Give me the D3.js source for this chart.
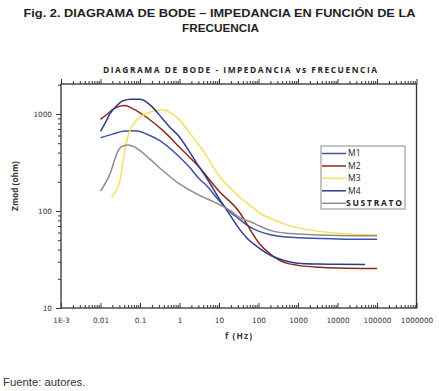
<!DOCTYPE html>
<html>
<head>
<meta charset="utf-8">
<script src="https://cdn.jsdelivr.net/npm/d3@7"></script>
<style>
  body { margin: 0; background: #fff; }
  svg { display: block; }
  .tick text { font-family: "DejaVu Sans", sans-serif; font-size: 7.3px; fill: #333; }
  .tick line { stroke: #333; }
</style>
</head>
<body>
<div id="chart"></div>
<script>
// bode plot - impedance modulus vs frequency

const width = 439;
const height = 391;
const plot = { left: 61, right: 416.5, top: 84, bottom: 308 };

// data (f in Hz, Zmod in ohm)
const seriesNames = ["M1", "M2", "M3", "M4", "SUSTRATO"];
const seriesColors = ["#3e51a6", "#8c2a16", "#f7e15a", "#2d3b90", "#8d8d8d"];

const m1Freq = [0.01, 0.02, 0.037, 0.067, 0.1, 0.146, 0.316, 0.83, 1.8, 3.2, 5, 10, 20, 33, 50, 100, 200, 500, 1000, 10000, 100000];
const m1Z = [570, 620, 662, 672, 660, 622, 531, 387, 282, 214, 180, 128, 96, 82, 72, 62, 57, 54, 53, 51.5, 51];

const m2Freq = [0.01, 0.015, 0.023, 0.041, 0.067, 0.146, 0.383, 1, 3.2, 10, 33, 50, 106, 200, 340, 600, 1000, 3400, 10000, 100000];
const m2Z = [880, 1000, 1150, 1220, 1130, 925, 673, 454, 280, 160, 97, 74, 46, 36, 31, 28.5, 27.5, 26.3, 25.8, 25.5];

const m3Freq = [0.019, 0.025, 0.031, 0.036, 0.041, 0.055, 0.075, 0.1, 0.176, 0.35, 0.57, 1, 2.2, 3.2, 5, 10, 20, 33, 50, 100, 340, 600, 1000, 4200, 10000, 100000];
const m3Z = [138, 165, 205, 300, 419, 673, 830, 925, 1042, 1110, 1040, 870, 575, 471, 360, 231, 170, 140, 122, 97, 77, 70.5, 67, 61, 59, 56.5];

const m4Freq = [0.01, 0.013, 0.0173, 0.025, 0.037, 0.06, 0.1, 0.15, 0.21, 0.35, 0.57, 1, 1.5, 3.2, 5, 10, 20, 33, 50, 100, 200, 340, 600, 1000, 3400, 10000, 50000];
const m4Z = [660, 800, 1000, 1200, 1370, 1420, 1420, 1320, 1170, 920, 730, 580, 455, 282, 215, 135, 88, 65, 53, 42, 35, 32, 30, 29, 28.4, 28.2, 28];

const sustratoFreq = [0.01, 0.0173, 0.028, 0.034, 0.05, 0.07, 0.1, 0.176, 0.38, 1, 2.7, 10, 20, 33, 50, 70, 106, 229, 500, 1000, 10000, 100000];
const sustratoZ = [160, 240, 419, 460, 480, 460, 419, 344, 260, 190, 150, 117, 100, 86, 80, 76, 70, 62, 59, 58, 56, 55.5];

const xTickValues = [1e-3, 1e-2, 1e-1, 1, 10, 100, 1000, 10000, 100000, 1000000];
const xTickLabels = ["1E-3", "0.01", "0.1", "1", "10", "100", "1000", "10000", "100000", "1000000"];
const yTickValues = [10, 100, 1000];
const yTickLabels = ["10", "100", "1000"];

const allSeries = [
    { freq: m1Freq, z: m1Z },
    { freq: m2Freq, z: m2Z },
    { freq: m3Freq, z: m3Z },
    { freq: m4Freq, z: m4Z },
    { freq: sustratoFreq, z: sustratoZ },
].map((s, i) => ({
    name: seriesNames[i],
    color: seriesColors[i],
    points: s.freq.map((f, j) => ({ f: f, z: s.z[j] }))
}));

const svg = d3.select("#chart")
    .append("svg")
    .attr("width", width)
    .attr("height", height);

const x = d3.scaleLog()
    .domain([1e-3, 1e6])
    .range([plot.left, plot.right]);

const y = d3.scaleLog()
    .domain([10, 2037])
    .range([plot.bottom, plot.top]);

// minor ticks 2..9 per decade
const xMinor = [];
for (let e = -3; e < 6; e++) for (let k = 2; k <= 9; k++) xMinor.push(k * Math.pow(10, e));
const yMinor = [];
for (let e = 1; e < 4; e++) for (let k = 2; k <= 9; k++) {
    const v = k * Math.pow(10, e);
    if (v <= 2037) yMinor.push(v);
}

// titles
svg.append("text")
    .attr("x", width / 2)
    .attr("y", 17)
    .attr("text-anchor", "middle")
    .attr("textLength", 392)
    .attr("lengthAdjust", "spacingAndGlyphs")
    .style("font-family", "'Liberation Sans', sans-serif")
    .style("font-weight", "bold")
    .style("font-size", "11.5px")
    .style("fill", "#231f20")
    .text("Fig. 2. DIAGRAMA DE BODE – IMPEDANCIA EN FUNCIÓN DE LA");

svg.append("text")
    .attr("x", width / 2 + 1)
    .attr("y", 31.5)
    .attr("text-anchor", "middle")
    .attr("textLength", 77)
    .attr("lengthAdjust", "spacingAndGlyphs")
    .style("font-family", "'Liberation Sans', sans-serif")
    .style("font-weight", "bold")
    .style("font-size", "11.5px")
    .style("fill", "#231f20")
    .text("FRECUENCIA");

svg.append("text")
    .attr("x", 240)
    .attr("y", 72.5)
    .attr("text-anchor", "middle")
    .attr("textLength", 274)
    .attr("lengthAdjust", "spacing")
    .style("font-family", "'Open Sans', sans-serif")
    .style("font-weight", "bold")
    .style("font-size", "8.4px")
    .style("fill", "#262626")
    .text("DIAGRAMA DE BODE - IMPEDANCIA vs FRECUENCIA");

svg.append("text")
    .attr("x", 3)
    .attr("y", 386)
    .style("font-family", "'Liberation Sans', sans-serif")
    .style("font-size", "11.3px")
    .style("fill", "#333")
    .text("Fuente: autores.");

// axes
const gx = svg.append("g").attr("transform", `translate(0,${plot.bottom})`);
gx.call(d3.axisBottom(x).tickValues(xMinor).tickSize(-3).tickFormat(""));
gx.call(g => g.select(".domain").remove());
const gxMajor = svg.append("g").attr("transform", `translate(0,${plot.bottom})`);
gxMajor.call(d3.axisBottom(x).tickValues(xTickValues).tickSize(-5).tickPadding(10)
    .tickFormat((d, i) => xTickLabels[i]));
gxMajor.select(".domain").remove();

const gTop = svg.append("g").attr("transform", `translate(0,${plot.top})`);
gTop.call(d3.axisTop(x).tickValues(xMinor).tickSize(3).tickFormat(""));
gTop.select(".domain").remove();
const gTopMajor = svg.append("g").attr("transform", `translate(0,${plot.top})`);
gTopMajor.call(d3.axisTop(x).tickValues(xTickValues).tickSize(5).tickFormat(""));
gTopMajor.select(".domain").remove();

const gy = svg.append("g").attr("transform", `translate(${plot.left},0)`);
gy.call(d3.axisLeft(y).tickValues(yMinor).tickSize(3).tickFormat(""));
gy.select(".domain").remove();
const gyMajor = svg.append("g").attr("transform", `translate(${plot.left},0)`);
gyMajor.call(d3.axisLeft(y).tickValues(yTickValues).tickSize(5).tickPadding(4)
    .tickFormat((d, i) => yTickLabels[i]));
gyMajor.select(".domain").remove();

svg.selectAll(".tick line").attr("stroke-width", 1);

// frame
svg.append("rect")
    .attr("x", plot.left)
    .attr("y", plot.top)
    .attr("width", plot.right - plot.left)
    .attr("height", plot.bottom - plot.top)
    .attr("fill", "none")
    .attr("stroke", "#333")
    .attr("stroke-width", 1.3);

// axis titles
svg.append("text")
    .attr("transform", "rotate(-90)")
    .attr("x", -186)
    .attr("y", 18)
    .attr("text-anchor", "middle")
    .style("font-family", "'Open Sans', sans-serif")
    .style("font-weight", "bold")
    .style("font-size", "8.3px")
    .style("fill", "#333")
    .text("Zmod (ohm)");

svg.append("text")
    .attr("x", 238.5)
    .attr("y", 339)
    .attr("text-anchor", "middle")
    .attr("textLength", 27)
    .attr("lengthAdjust", "spacing")
    .style("font-family", "'Open Sans', sans-serif")
    .style("font-weight", "bold")
    .style("font-size", "8.3px")
    .style("fill", "#333")
    .text("f (Hz)");

// curves
const line = d3.line()
    .x(d => x(d.f))
    .y(d => y(d.z))
    .curve(d3.curveMonotoneX);

svg.append("g")
    .selectAll("path")
    .data(allSeries)
    .enter()
    .append("path")
    .attr("d", d => line(d.points))
    .attr("fill", "none")
    .attr("stroke", d => d.color)
    .attr("stroke-width", 1.5);

// legend
const legendBox = { x: 321, y: 146, w: 84, h: 63 };
const legendRows = [153.5, 166, 178.3, 190.8, 203.3];

const gLegend = svg.append("g").attr("class", "legend");
gLegend.append("rect")
    .attr("x", legendBox.x)
    .attr("y", legendBox.y)
    .attr("width", legendBox.w)
    .attr("height", legendBox.h)
    .attr("fill", "#fff")
    .attr("stroke", "#8a8a8a")
    .attr("stroke-width", 1);

gLegend.selectAll("line")
    .data(allSeries)
    .enter()
    .append("line")
    .attr("x1", legendBox.x + 1)
    .attr("x2", legendBox.x + 25)
    .attr("y1", (_, i) => legendRows[i])
    .attr("y2", (_, i) => legendRows[i])
    .attr("stroke", d => d.color)
    .attr("stroke-width", 1.5);

gLegend.selectAll("text")
    .data(allSeries)
    .enter()
    .append("text")
    .attr("x", (d, i) => i === 4 ? legendBox.x + 25 : legendBox.x + 27)
    .attr("y", (_, i) => legendRows[i])
    .attr("dy", "0.35em")
    .attr("textLength", (d, i) => i === 4 ? 56 : null)
    .attr("lengthAdjust", "spacing")
    .style("font-family", "'Open Sans', sans-serif")
    .style("font-weight", (d, i) => i === 4 ? "bold" : "normal")
    .style("font-size", "8.5px")
    .style("fill", "#222")
    .text(d => d.name);
</script>
</body>
</html>
